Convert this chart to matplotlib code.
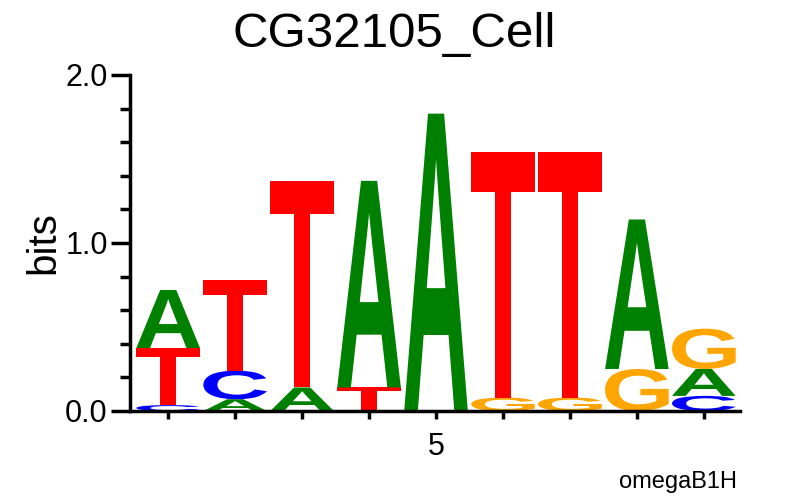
import numpy as np
import matplotlib
matplotlib.use('Agg')
import matplotlib.pyplot as plt
from matplotlib.textpath import TextPath
from matplotlib.patches import PathPatch
from matplotlib.font_manager import FontProperties
from matplotlib.transforms import Affine2D
from matplotlib.ticker import MultipleLocator

plt.rcParams['font.family'] = ['Liberation Sans', 'DejaVu Sans']

# information content (bits) of each letter at positions 1..9
positions = [1, 2, 3, 4, 5, 6, 7, 8, 9]
bits_A = [0.345, 0.07, 0.14, 1.23, 1.77, 0.0, 0.0, 0.89, 0.16]
bits_C = [0.035, 0.17, 0.0, 0.0, 0.0, 0.0, 0.0, 0.0, 0.09]
bits_G = [0.0, 0.0, 0.0, 0.0, 0.0, 0.08, 0.08, 0.25, 0.24]
bits_T = [0.34, 0.54, 1.23, 0.14, 0.0, 1.46, 1.46, 0.0, 0.0]

colors = {'A': '#008000', 'C': '#0000ff', 'G': '#ffa500', 'T': '#ff0000'}
fp = FontProperties(family='Liberation Sans', weight='bold')


def draw_letter(ax, ch, x, y0, h, w=0.95):
    tp = TextPath((0, 0), ch, size=1, prop=fp)
    bb = tp.get_extents()
    tr = Affine2D().translate(-bb.x0, -bb.y0) \
        .scale(w / bb.width, h / bb.height) \
        .translate(x - w / 2, y0)
    ax.add_patch(PathPatch(tr.transform_path(tp), fc=colors[ch], ec='none', lw=0))


fig = plt.figure(figsize=(7.88, 4.96), dpi=100)
ax = fig.add_axes([130 / 788, 85 / 496, 610 / 788, 336 / 496])

for i, p in enumerate(positions):
    col = [('A', bits_A[i]), ('C', bits_C[i]), ('G', bits_G[i]), ('T', bits_T[i])]
    col = sorted([c for c in col if c[1] > 0], key=lambda c: c[1])
    y = 0.0
    for ch, h in col:
        draw_letter(ax, ch, p, y, h)
        y += h

ax.set_xlim(0.43, 9.54)
ax.set_ylim(0, 2.0)
for s in ['top', 'right']:
    ax.spines[s].set_visible(False)
for s in ['left', 'bottom']:
    ax.spines[s].set_linewidth(2.5)

ax.set_yticks([0, 1, 2])
ax.set_yticklabels(['0.0', '1.0', '2.0'])
ax.yaxis.set_minor_locator(MultipleLocator(0.2))
ax.tick_params(axis='y', which='major', length=14, width=2.5, labelsize=22, pad=2)
ax.tick_params(axis='y', which='minor', length=7, width=2.5)
ax.set_xticks(positions)
ax.set_xticklabels(['' if p != 5 else '5' for p in positions])
ax.tick_params(axis='x', length=6, width=2.5, labelsize=22, pad=9)

ax.set_ylabel('bits', fontsize=29, labelpad=2)
fig.text(0.5, 0.975, 'CG32105_Cell', ha='center', va='top', fontsize=35.5)
fig.text(737 / 788, 1 - 488 / 496, 'omegaB1H', ha='right', va='baseline', fontsize=17)

fig.savefig('out.png', dpi=100)
